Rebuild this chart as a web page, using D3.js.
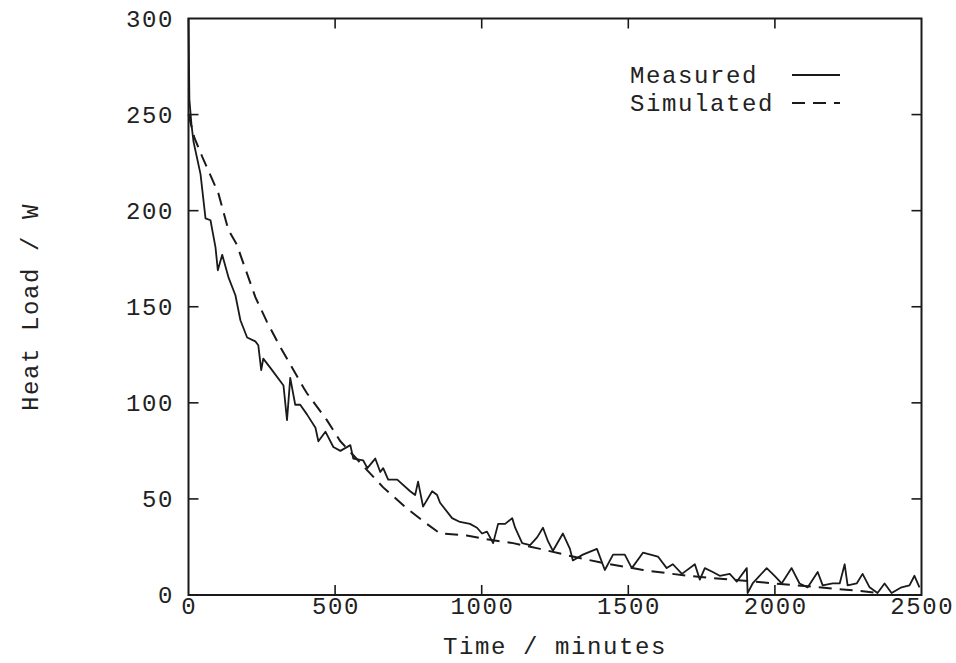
<!DOCTYPE html>
<html>
<head>
<meta charset="utf-8">
<script src="https://cdn.jsdelivr.net/npm/d3@7"></script>
<style>
html,body{margin:0;padding:0;background:#fff;}
svg{display:block;}
text{font-family:"Liberation Mono","DejaVu Sans Mono",monospace;fill:#222;}
</style>
</head>
<body>
<svg id="chart" width="956" height="663"></svg>
<script>
const measuredTime = [0,3,10,17,41,58,75,81,92,100,115,137,160,177,200,228,238,248,255,285,324,336,347,364,381,404,433,443,467,494,518,552,562,596,610,637,654,664,681,712,756,773,783,800,831,848,858,899,926,960,984,1001,1018,1039,1056,1080,1104,1114,1138,1165,1189,1209,1226,1243,1277,1301,1311,1345,1393,1420,1448,1488,1512,1550,1601,1631,1652,1683,1727,1744,1761,1788,1812,1846,1870,1904,1907,1924,1972,1999,2023,2057,2084,2112,2146,2163,2197,2221,2238,2248,2279,2299,2323,2350,2374,2398,2432,2459,2476,2493];
const measuredLoad = [300,258,245,236,219,196,195,190,181,169,177,165,156,143,134,132,130,117,123,117,109,91,113,99,99,94,87,80,85,77,75,78,71,70,66,71,64,66,60,60,54,52,59,46,54,52,48,40,38,37,35,32,33,27,37,37,40,35,27,26,30,35,28,23,32,24,18,21,24,13,21,21,14,22,20,14,16,11,16,8,14,12,10,11,7,14,1,6,14,10,6,14,6,4,12,5,6,6,16,5,6,11,4,1,6,1,4,5,10,4];
const simulatedTime = [0,20,47,102,136,166,177,228,268,313,347,392,404,472,518,609,664,745,813,858,949,1017,1107,1199,1311,1403,1550,1700,1850,2000,2150,2300,2350];
const simulatedLoad = [250,238,228,209,190,182,177,155,142,129,120,108,105,91,80,65,56,45,37,32,31,29,27,24,20,17,13,10,8,6,4,2,1];
const xTicks = [0,500,1000,1500,2000,2500];
const yTicks = [0,50,100,150,200,250,300];
const legendLabels = ["Measured","Simulated"];

const svg = d3.select("#chart");
const L = 188.5, R = 921.5, T = 18.5, B = 595;
const x = d3.scaleLinear().domain([0,2500]).range([L,R]);
const y = d3.scaleLinear().domain([0,300]).range([B,T]);

const fontSize = 24, ls = 1.6;
const ink = "#1a1a1a";

// frame
svg.append("rect").attr("x",L).attr("y",T).attr("width",R-L).attr("height",B-T)
  .attr("fill","none").attr("stroke",ink).attr("stroke-width",2);

// ticks (inward, all four sides)
const tl = 10;
const g = svg.append("g").attr("stroke",ink).attr("stroke-width",1.6);
xTicks.forEach(t=>{
  if(t===0||t===2500) return;
  g.append("line").attr("x1",x(t)).attr("x2",x(t)).attr("y1",B).attr("y2",B-tl);
  g.append("line").attr("x1",x(t)).attr("x2",x(t)).attr("y1",T).attr("y2",T+tl);
});
yTicks.forEach(t=>{
  if(t===0||t===300) return;
  g.append("line").attr("x1",L).attr("x2",L+tl).attr("y1",y(t)).attr("y2",y(t));
  g.append("line").attr("x1",R).attr("x2",R-tl).attr("y1",y(t)).attr("y2",y(t));
});

// tick labels
svg.selectAll(".xl").data(xTicks).enter().append("text")
  .attr("x",d=>x(d)+ls/2).attr("y",B+19).attr("text-anchor","middle")
  .style("font-size",fontSize+"px").style("letter-spacing",ls+"px").text(d=>d);
svg.selectAll(".yl").data(yTicks).enter().append("text")
  .attr("x",L-16+ls).attr("y",d=>y(d)+8).attr("text-anchor","end")
  .style("font-size",fontSize+"px").style("letter-spacing",ls+"px").text(d=>d);

// axis titles
svg.append("text").attr("x",555).attr("y",654).attr("text-anchor","middle")
  .style("font-size",fontSize+"px").style("letter-spacing",ls+"px").text("Time / minutes");
svg.append("text").attr("transform","translate(38,307) rotate(-90)").attr("text-anchor","middle")
  .style("font-size",fontSize+"px").style("letter-spacing",ls+"px").text("Heat Load / W");

// lines
const measured = measuredTime.map((t,i)=>[t,measuredLoad[i]]);
const simulated = simulatedTime.map((t,i)=>[t,simulatedLoad[i]]);
const line = d3.line().x(d=>x(d[0])).y(d=>y(d[1]));
svg.append("path").datum(simulated).attr("d",line).attr("fill","none")
  .attr("stroke",ink).attr("stroke-width",2).attr("stroke-dasharray","13,8");
svg.append("path").datum(measured).attr("d",line).attr("fill","none")
  .attr("stroke",ink).attr("stroke-width",1.8).attr("stroke-linejoin","round");

// legend
const legY = [75,103];
legendLabels.forEach((lab,i)=>{
  svg.append("text").attr("x",630).attr("y",legY[i]+8)
    .style("font-size",fontSize+"px").style("letter-spacing",ls+"px").text(lab);
  svg.append("line").attr("x1",792).attr("x2",840).attr("y1",legY[i]).attr("y2",legY[i])
    .attr("stroke",ink).attr("stroke-width",1.8)
    .attr("stroke-dasharray", i===0 ? null : "13,8");
});
</script>
</body>
</html>
